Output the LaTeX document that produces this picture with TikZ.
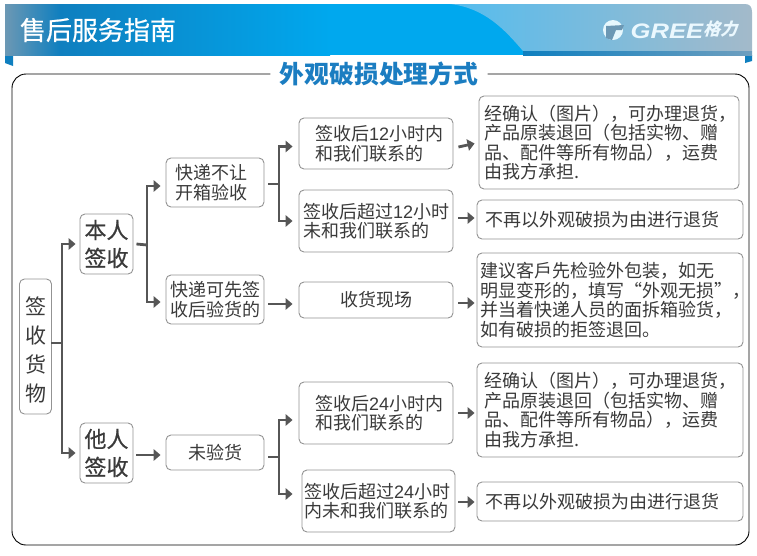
\documentclass[tikz,border=0pt]{standalone}
\usepackage{fontspec}
\usetikzlibrary{arrows.meta}
\setmainfont{Noto Sans CJK SC}
\newfontfamily\logofont[FakeSlant=0.3]{Noto Sans CJK SC}
\newfontfamily\headfont[FakeBold=0.7]{Noto Sans CJK SC}
\newfontfamily\greefont[FakeStretch=1.22]{Liberation Sans}
\newfontfamily\digitfont{Liberation Sans}
\definecolor{linkgray}{HTML}{565656}
\definecolor{textgray}{HTML}{3A3A3A}
\definecolor{titleblue}{HTML}{1B7DC1}
\definecolor{bandgray}{HTML}{6C98B4}
\definecolor{banddark}{HTML}{0F7FBF}
\definecolor{bandblue}{HTML}{00A8EE}
\definecolor{bandlight}{HTML}{55BCEE}
\definecolor{bandend}{HTML}{A3BACA}
\definecolor{stripend}{HTML}{6E9FBF}
\tikzset{
  box/.style={draw=gray!85, fill=white, line width=0.9pt, rounded corners=5pt, inner sep=0pt, align=left, text=textgray},
  small/.style={box, font=\fontsize{18}{19.6}\selectfont},
  big/.style={box, font=\headfont\fontsize{22}{28}\selectfont},
  leftbox/.style 2 args={minimum width=#1, inner xsep=#2, text width=(#1-2*#2)*1pt},
  stub/.style={line width=2.8pt, draw=linkgray},
  link/.style={stub, -{Triangle[length=7pt,width=11.5pt]}}
}
\begin{document}
\begin{tikzpicture}[x=1pt, y=-1pt]
  \useasboundingbox (0, 0) rectangle (757, 555);
  % header band
  \fill[banddark] (5, 55) -- (13, 55) -- (13, 66) -- (5, 63) -- cycle;
  \fill[banddark] (745, 55) -- (752, 55) -- (752, 61) -- (745, 63) -- cycle;
  \shade[left color=bandgray, right color=banddark] (5, 4) rectangle (60, 55);
  \shade[left color=banddark, right color=bandblue] (60, 4) rectangle (330, 55);
  \fill[bandblue] (330, 4) rectangle (530, 55);
  \shade[left color=bandlight, right color=bandend] (450, 4) .. controls (485, 8) and (505, 30) .. (523, 51) -- (752, 51) -- (752, 12) .. controls (752, 7) and (750, 4) .. (745, 4) -- cycle;
  \shade[left color=banddark, right color=stripend] (523, 51) rectangle (752, 55);
  \node[text=white, font=\headfont\fontsize{26}{26}\selectfont] (heading) at (98, 30) {售后服务指南};
  % logo
  \fill[white!90!cyan] (613, 30) circle (10);
  \fill[bandgray] (606, 26) -- (624, 25) -- (622, 30) -- (616, 30) -- (612, 40) -- (606, 38) -- cycle;
  \node[text=white!92!cyan, font=\greefont\bfseries\itshape\fontsize{21}{21}\selectfont] (gree) at (667, 31) {GREE};
  \node[text=white!92!cyan, font=\logofont\bfseries\fontsize{17}{17}\selectfont] (geli) at (720, 29) {格力};
  % frame with the title set into its top edge
  \node[text=titleblue, font=\bfseries\fontsize{24.8}{25}\selectfont] (title) at (379, 74) {外观破损处理方式};
  \draw[line width=0.9pt, rounded corners=14pt] ([xshift=-6pt]title.west) -- (12, 74) -- (12, 545) -- (749, 545) -- (749, 74) -- ([xshift=6pt]title.east);
  % first column
  \node[big, font=\fontsize{21}{29}\selectfont, align=center, minimum width=32, minimum height=135] (qianshou) at (35.5, 346.5) {\rule{0pt}{24pt}签\\收\\货\\物};
  \node[big, align=center, minimum width=53, minimum height=60] (benren) at (106.5, 244) {本人\\签收};
  \node[big, align=center, minimum width=53, minimum height=60] (taren) at (106.5, 453) {他人\\签收};
  \node[small, leftbox={98}{9}, minimum height=49] (bukai) at (215, 182.5) {快递不让\\开箱验收};
  \node[small, leftbox={98}{4}, minimum height=49] (xianqian) at (215, 299.5) {快递可先签\\收后验货的};
  \node[small, minimum width=98, minimum height=35] (weiyan) at (215, 452.5) {未验货};
  % second column
  \node[small, leftbox={154}{16}, minimum height=51] (shi) at (376, 143.5) {签收后{\digitfont 12}小时内\\和我们联系的};
  \node[small, leftbox={154}{4}, minimum height=62] (chao) at (376, 221) {签收后超过{\digitfont 12}小时\\未和我们联系的};
  \node[small, minimum width=154, minimum height=36] (xianchang) at (376, 300) {收货现场};
  \node[small, leftbox={154}{16}, minimum height=62] (ershisi) at (376, 413) {签收后{\digitfont 24}小时内\\和我们联系的};
  \node[small, leftbox={153}{2}, minimum height=62] (chaoer) at (378.5, 501) {签收后超过{\digitfont 24}小时\\内未和我们联系的};
  % results
  \node[small, leftbox={260}{5}, minimum height=93] (tuia) at (609, 142.5) {经确认（图片），可办理退货，\\产品原装退回（包括实物、赠\\品、配件等所有物品），运费\\由我方承担.};
  \node[small, leftbox={266}{8}, minimum height=39] (buzai) at (610, 219.5) {不再以外观破损为由进行退货};
  \node[small, leftbox={266}{3}, minimum height=94] (jianyi) at (610, 300) {建议客戶先检验外包装，如无\\明显变形的，填写“外观无损”，\\并当着快递人员的面拆箱验货，\\如有破损的拒签退回。};
  \node[small, leftbox={266}{7}, minimum height=94] (tuib) at (610, 410) {经确认（图片），可办理退货，\\产品原装退回（包括实物、赠\\品、配件等所有物品），运费\\由我方承担.};
  \node[small, leftbox={266}{8}, minimum height=39] (buzaib) at (610, 501.5) {不再以外观破损为由进行退货};
  % branches
  \coordinate (ta) at (62, 343);
  \coordinate (tb) at (147, 245);
  \coordinate (tc) at (279, 184);
  \coordinate (td) at (279, 457);
  \draw[stub] (51, 343) -- (ta);
  \draw[link] (ta) |- ([xshift=-4pt]benren.west);
  \draw[link] (ta) |- ([xshift=-4pt]taren.west);
  \draw[stub] ([xshift=3pt]benren.east) -- (tb);
  \draw[link] (tb) |- ([xshift=-5pt,yshift=-3.5pt]bukai.west);
  \draw[link] (tb) |- ([xshift=-5pt,yshift=-2.5pt]xianqian.west);
  \draw[stub] (268, 184) -- (tc);
  \draw[link] (tc) |- ([xshift=-6pt,yshift=-3pt]shi.west);
  \draw[link] (tc) |- ([xshift=-6pt]chao.west);
  \draw[stub] (268, 457) -- (td);
  \draw[link] (td) |- ([xshift=-6pt,yshift=-7pt]ershisi.west);
  \draw[link] (td) |- ([xshift=-9pt,yshift=7pt]chaoer.west);
  \draw[link] ([xshift=3pt,yshift=-2pt]taren.east) -- ([xshift=-5pt,yshift=-2.5pt]weiyan.west);
  \draw[link] ([xshift=4pt,yshift=-4.5pt]xianqian.east) -- ([xshift=-6pt,yshift=-4pt]xianchang.west);
  % arrows to the results
  \draw[link] ([xshift=5pt,yshift=-3.5pt]shi.east) -- ([xshift=-4pt]shi.east -| tuia.west);
  \draw[link] ([xshift=5pt,yshift=3pt]chao.east) -- ([xshift=-2pt,yshift=3pt]chao.east -| buzai.west);
  \draw[link] ([xshift=5pt,yshift=-3pt]xianchang.east) -- ([xshift=-2pt,yshift=-3pt]xianchang.east -| jianyi.west);
  \draw[link] ([xshift=5pt]ershisi.east) -- ([xshift=-2pt]ershisi.east -| tuib.west);
  \draw[link] ([xshift=3pt,yshift=-1pt]chaoer.east) -- ([xshift=-2pt,yshift=-1pt]chaoer.east -| buzaib.west);
\end{tikzpicture}
\end{document}
